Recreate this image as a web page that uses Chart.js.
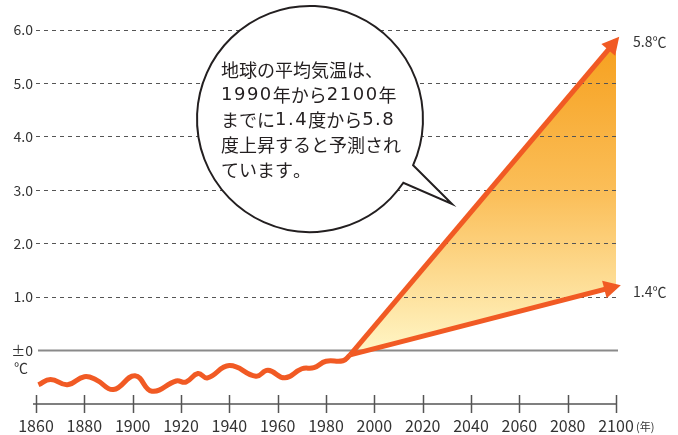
<!DOCTYPE html>
<html>
<head>
<meta charset="utf-8">
<script src="https://cdn.jsdelivr.net/npm/chart.js"></script>
<style>
  html, body { margin: 0; padding: 0; background: #fff; }
  #wrap { width: 678px; height: 435px; }
</style>
</head>
<body>
<div id="wrap"><canvas id="tempChart"></canvas></div>
<script>
// observed temperature (relative to 1990 level)
const years = [1861, 1866, 1873, 1880, 1885, 1892, 1901, 1908, 1918, 1922, 1927, 1931, 1940, 1951, 1956, 1963, 1970, 1975, 1980, 1987, 1990];
const pastTemps = [-0.64, -0.54, -0.64, -0.49, -0.55, -0.73, -0.47, -0.76, -0.57, -0.59, -0.43, -0.51, -0.28, -0.48, -0.37, -0.51, -0.34, -0.32, -0.2, -0.19, -0.08];

// projection 1990 -> 2100
const forecastYears = [1990, 2100];
const highForecast = [-0.08, 5.8];
const lowForecast = [-0.08, 1.2];
const highLabel = '5.8℃';
const lowLabel = '1.4℃';

const yearTicks = [1860, 1880, 1900, 1920, 1940, 1960, 1980, 2000, 2020, 2040, 2060, 2080, 2100];
const tempTicks = [-1, 0, 1, 2, 3, 4, 5, 6];

const bubbleLines = [
    '地球の平均気温は、',
    '1990年から2100年',
    'までに1.4度から5.8',
    '度上昇すると予測され',
    'ています。'
];

const orange = '#f15a24';
const textColor = '#333333';
const jpFont = '"Noto Sans CJK JP", "Noto Sans", sans-serif';

function toPoints(xs, ys) {
    return xs.map((x, i) => ({ x: x, y: ys[i] }));
}

// vertical gradient for the projection band
function bandFill(ctx) {
    const chart = ctx.chart;
    if (!chart.chartArea) return 'rgba(247,161,31,0.6)';
    const y = chart.scales.y;
    const g = chart.ctx.createLinearGradient(0, y.getPixelForValue(5.8), 0, y.getPixelForValue(0));
    g.addColorStop(0, '#f6a01e');
    g.addColorStop(0.5, '#fbbf5a');
    g.addColorStop(1, '#fff5c4');
    return g;
}

// the original uses wider digits than Noto, so latin chars get DejaVu
function drawMixed(ctx, text, x, y) {
    for (const ch of text) {
        const latin = /[0-9.]/.test(ch);
        ctx.font = latin ? '18px "DejaVu Sans", sans-serif' : '18px ' + jpFont;
        ctx.fillText(ch, x, y);
        x += ctx.measureText(ch).width + (latin ? 1.5 : 0);
    }
}

// zero line + x axis with crossing ticks
const axisPlugin = {
    id: 'axisPlugin',
    beforeDatasetsDraw(chart) {
        const { ctx, chartArea, scales } = chart;
        const x = scales.x, y = scales.y;
        ctx.save();
        const y0 = y.getPixelForValue(0);
        ctx.strokeStyle = '#8a8a8a';
        ctx.lineWidth = 2;
        ctx.beginPath();
        ctx.moveTo(chartArea.left + 2, y0);
        ctx.lineTo(chartArea.right + 2, y0);
        ctx.stroke();

        const yb = chartArea.bottom;
        ctx.strokeStyle = '#555555';
        ctx.lineWidth = 1.5;
        ctx.beginPath();
        ctx.moveTo(chartArea.left - 3, yb);
        ctx.lineTo(chartArea.right, yb);
        yearTicks.forEach(v => {
            const px = Math.round(x.getPixelForValue(v)) + 0.5;
            ctx.moveTo(px, yb - 9);
            ctx.lineTo(px, yb + 9);
        });
        ctx.stroke();
        ctx.restore();
    }
};

// arrowheads, end labels, unit labels and the speech bubble
const notePlugin = {
    id: 'notePlugin',
    afterDatasetsDraw(chart) {
        const ctx = chart.ctx;
        ctx.save();
        [1, 2].forEach(di => {
            const pts = chart.getDatasetMeta(di).data;
            const a = pts[pts.length - 2], b = pts[pts.length - 1];
            const ang = Math.atan2(b.y - a.y, b.x - a.x);
            const tipX = b.x + 5 * Math.cos(ang), tipY = b.y + 5 * Math.sin(ang);
            const len = 17, half = 9;
            const bx = tipX - len * Math.cos(ang), by = tipY - len * Math.sin(ang);
            ctx.fillStyle = orange;
            ctx.beginPath();
            ctx.moveTo(tipX, tipY);
            ctx.lineTo(bx + half * Math.sin(ang), by - half * Math.cos(ang));
            ctx.lineTo(bx - half * Math.sin(ang), by + half * Math.cos(ang));
            ctx.closePath();
            ctx.fill();
        });

        const y = chart.scales.y, x = chart.scales.x;
        ctx.fillStyle = textColor;
        ctx.textBaseline = 'middle';
        ctx.textAlign = 'left';
        ctx.font = '14px ' + jpFont;
        const endX = x.getPixelForValue(2100);
        ctx.fillText(highLabel, endX + 17, y.getPixelForValue(highForecast[1]) + 1);
        ctx.fillText(lowLabel, endX + 17, y.getPixelForValue(lowForecast[1]) + 5);

        ctx.font = '14px ' + jpFont;
        ctx.textAlign = 'center';
        ctx.fillText('℃', 21, y.getPixelForValue(0) + 17);

        ctx.font = '11px ' + jpFont;
        ctx.textAlign = 'left';
        ctx.fillText('(年)', endX + 20, 427);
        ctx.restore();
    },
    afterDraw(chart) {
        const ctx = chart.ctx;
        const cx = 310, cy = 119, r = 113;
        const tip = [452, 204];
        const aA = Math.atan2(165 - cy, 412.7 - cx);
        const aB = Math.atan2(182.7 - cy, 403.3 - cx);
        ctx.save();
        ctx.beginPath();
        ctx.moveTo(tip[0], tip[1]);
        ctx.lineTo(cx + r * Math.cos(aA), cy + r * Math.sin(aA));
        ctx.arc(cx, cy, r, aA, aB, true);
        ctx.closePath();
        ctx.fillStyle = '#ffffff';
        ctx.fill();
        ctx.strokeStyle = '#231f20';
        ctx.lineWidth = 2;
        ctx.lineJoin = 'miter';
        ctx.stroke();

        ctx.fillStyle = '#231f20';
        ctx.textAlign = 'left';
        ctx.textBaseline = 'middle';
        bubbleLines.forEach((line, i) => {
            drawMixed(ctx, line, 221, 70 + i * 25);
        });
        ctx.restore();
    }
};

const chart = new Chart(document.getElementById('tempChart').getContext('2d'), {
    type: 'line',
    data: {
        datasets: [
            {
                label: 'observed',
                data: toPoints(years, pastTemps),
                borderColor: orange,
                borderWidth: 5,
                pointRadius: 0,
                tension: 0.45,
                fill: false
            },
            {
                label: 'high',
                data: toPoints(forecastYears, highForecast),
                borderColor: orange,
                borderWidth: 5,
                pointRadius: 0,
                backgroundColor: bandFill,
                fill: '+1'
            },
            {
                label: 'low',
                data: toPoints(forecastYears, lowForecast),
                borderColor: orange,
                borderWidth: 5,
                pointRadius: 0,
                fill: false
            }
        ]
    },
    options: {
        responsive: true,
        maintainAspectRatio: false,
        animation: false,
        layout: { padding: { top: 30, right: 62, left: 0, bottom: 0 } },
        plugins: {
            legend: { display: false },
            tooltip: { enabled: false },
            filler: { drawTime: 'beforeDraw' }
        },
        scales: {
            x: {
                type: 'linear',
                min: 1860,
                max: 2100,
                afterBuildTicks: axis => { axis.ticks = yearTicks.map(v => ({ value: v })); },
                afterFit: axis => { axis.height = 31; },
                grid: { display: false, drawTicks: false },
                border: { display: false },
                ticks: {
                    color: textColor,
                    font: { family: jpFont, size: 16 },
                    padding: 12,
                    maxRotation: 0,
                    autoSkip: false,
                    callback: v => String(v)
                }
            },
            y: {
                min: -1,
                max: 6,
                afterBuildTicks: axis => { axis.ticks = tempTicks.map(v => ({ value: v })); },
                afterFit: axis => { axis.width = 36; },
                grid: {
                    color: c => (c.tick && c.tick.value > 0) ? '#555555' : 'rgba(0,0,0,0)',
                    lineWidth: 1,
                    drawTicks: false
                },
                border: { display: false, dash: [4, 4] },
                ticks: {
                    color: textColor,
                    font: { family: jpFont, size: 14 },
                    padding: 3,
                    callback: v => v === 0 ? '±0' : (v < 0 ? '' : v.toFixed(1))
                }
            }
        }
    },
    plugins: [axisPlugin, notePlugin]
});
</script>
</body>
</html>
